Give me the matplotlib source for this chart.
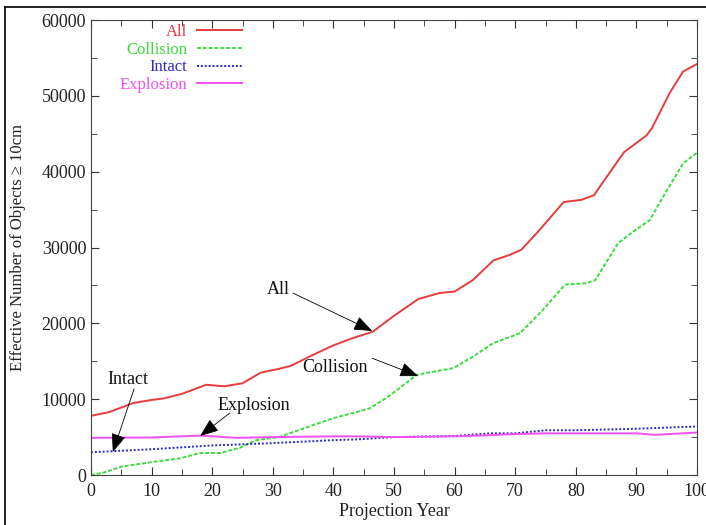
import matplotlib
matplotlib.use('Agg')
import matplotlib.pyplot as plt
from matplotlib.lines import Line2D
from matplotlib.ticker import MultipleLocator

plt.rcParams['font.family'] = ['Liberation Serif', 'DejaVu Serif']

# valores
all_years = [0, 3, 5, 7, 10, 12, 15, 19, 22, 25, 28, 31, 33, 36, 40, 43, 46.5, 50, 54, 57.5,
             60, 63, 66.4, 69, 71, 74, 78, 81, 83, 87, 88, 91.7, 92.6, 95.5, 97.7, 100]
all_vals = [7800, 8300, 8900, 9500, 9900, 10100, 10700, 11900, 11700, 12100, 13500, 14000,
            14400, 15600, 17100, 18000, 18900, 21000, 23200, 24000, 24200, 25700, 28300,
            29000, 29700, 32300, 36000, 36300, 36900, 41500, 42600, 44800, 45800, 50400,
            53200, 54200]

coll_years = [0, 2, 5, 10, 14.7, 18, 21.3, 24.6, 27.3, 31, 36, 40, 43.8, 46, 48.8, 51, 53.7,
              57, 59.8, 63, 66.4, 70.8, 74.6, 78.2, 81.8, 83.2, 87, 89.3, 92.2, 94.4, 97.7, 100]
coll_vals = [0, 300, 1100, 1700, 2200, 2900, 2900, 3600, 4600, 5000, 6400, 7500, 8300, 8800,
             10200, 11500, 13200, 13700, 14100, 15600, 17400, 18700, 21800, 25100, 25300,
             25700, 30600, 32000, 33600, 36700, 41100, 42500]

intact_years = [0, 10, 20, 30, 40, 44, 50, 60, 66, 70, 75, 80, 90, 100]
intact_vals = [3000, 3400, 3900, 4200, 4600, 4700, 5000, 5150, 5500, 5500, 5900, 5900, 6100, 6400]

expl_years = [0, 10, 18, 24, 30, 40, 44, 50, 60, 64, 70, 75, 80, 90, 93, 100]
expl_vals = [4900, 4950, 5200, 4900, 5000, 5100, 5100, 5000, 5100, 5200, 5400, 5500, 5500,
             5500, 5300, 5600]

series_names = ['All', 'Collision', 'Intact', 'Explosion']

# anotacoes: texto, posicao do texto, inicio da seta, ponta da seta
notes = [
    ('All', (30.9, 24400), (33.3, 24000), (46.4, 19000)),
    ('Collision', (40.3, 14240), (46.4, 15400), (54.0, 13050)),
    ('Intact', (6.1, 12660), (7.1, 11340), (3.6, 3030)),
    ('Explosion', (26.9, 9230), (22.9, 8180), (18.0, 5140)),
]

fig = plt.figure(figsize=(7.06, 5.25), dpi=100)
ax = fig.add_axes([0.1289, 0.0952, 0.8584, 0.8667])

cores = ['#e63c3c', '#3cdc3c', '#2a2ac8', '#f050f0']
estilos = ['-', (0, (2, 1)), (0, (1, 1)), '-']
dados = [(all_years, all_vals), (coll_years, coll_vals),
         (intact_years, intact_vals), (expl_years, expl_vals)]
linhas = []
for (xs, ys), c, ls, nome in zip(dados, cores, estilos, series_names):
    l, = ax.plot(xs, ys, color=c, ls=ls, lw=1.4, label=nome)
    linhas.append(l)

ax.set_xlim(0, 100)
ax.set_ylim(0, 60000)
ax.xaxis.set_major_locator(MultipleLocator(10))
ax.xaxis.set_minor_locator(MultipleLocator(5))
ax.yaxis.set_major_locator(MultipleLocator(10000))
ax.yaxis.set_minor_locator(MultipleLocator(5000))
ax.tick_params(which='both', direction='in', top=True, right=True, colors='#333333',
               labelcolor='#222222', labelsize=13)
ax.tick_params(which='major', length=6)
ax.tick_params(which='minor', length=4)
ax.tick_params(axis='x', pad=6)
for s in ax.spines.values():
    s.set_color('#444444')

ax.set_xlabel('Projection Year', fontsize=13, color='#222222', labelpad=2)
ax.set_ylabel('Effective Number of Objects \u2265 10cm', fontsize=12, color='#222222')
ax.yaxis.set_label_coords(-0.108, 0.5)

# legenda estilo gnuplot
leg = ax.legend(handles=linhas, loc='upper left', bbox_to_anchor=(0.031, 1.013),
                frameon=False, markerfirst=False, fontsize=12, handlelength=2.7,
                labelspacing=0.1, handletextpad=0.6, borderaxespad=0.2)
for txt, c in zip(leg.get_texts(), cores):
    txt.set_color(c)
    txt.set_ha('right')
leg._legend_box.align = 'right'

for texto, pos, ini, ponta in notes:
    ax.text(pos[0], pos[1], texto, ha='center', va='center', fontsize=13, color='#111111')
    ax.annotate('', xy=ponta, xytext=ini,
                arrowprops=dict(arrowstyle='-|>,head_length=1.15,head_width=0.45',
                                mutation_scale=10, lw=0.6, color='black',
                                shrinkA=0, shrinkB=0))

# moldura da figura
fig.add_artist(Line2D([5 / 706, 1], [1 - 7 / 525, 1 - 7 / 525], color='black', lw=1.2))
fig.add_artist(Line2D([5 / 706, 5 / 706], [0, 1 - 7 / 525], color='black', lw=1.2))

fig.savefig('out.png', dpi=100)
